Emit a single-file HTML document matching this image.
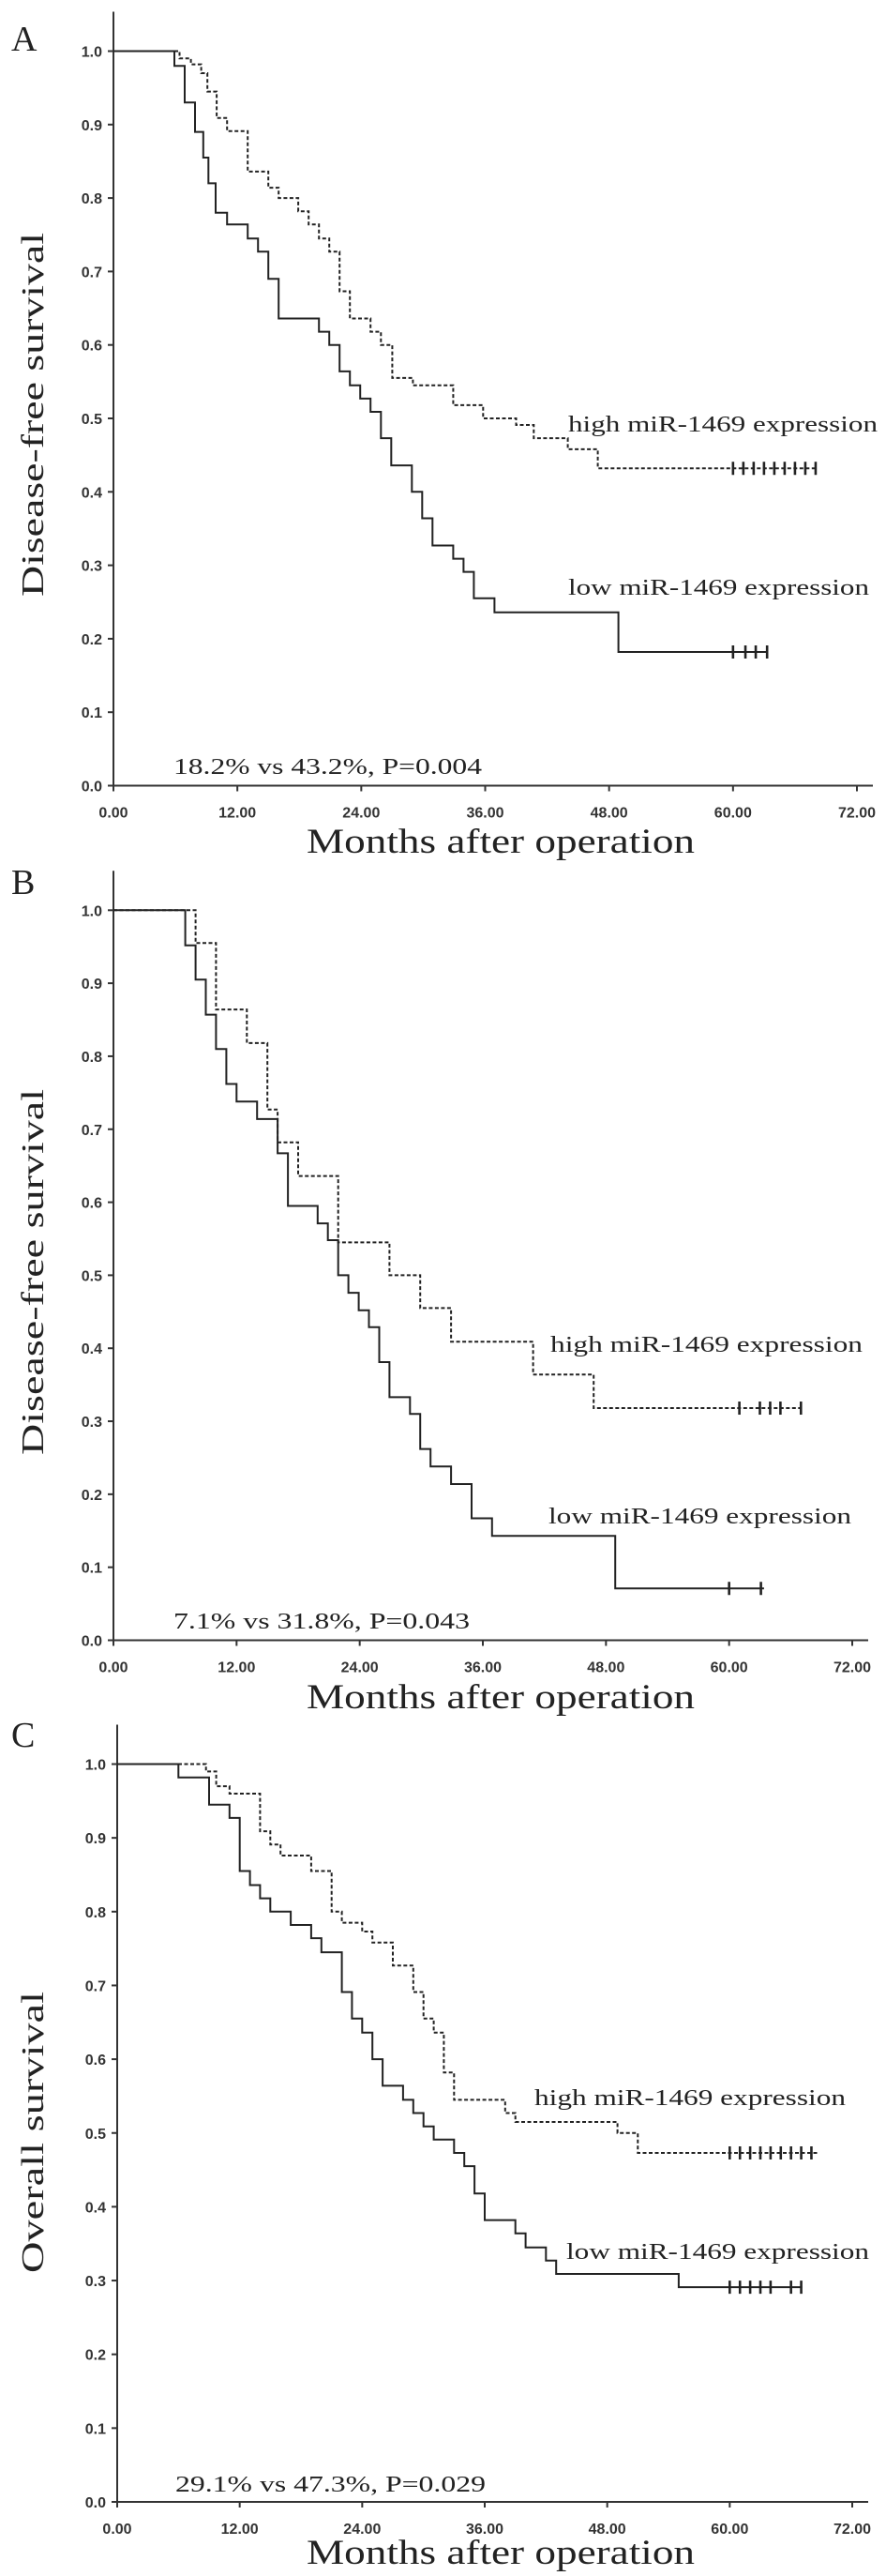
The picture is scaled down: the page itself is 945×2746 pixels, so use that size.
<!DOCTYPE html>
<html><head><meta charset="utf-8"><style>
html,body{margin:0;padding:0;background:#fff}
svg{display:block}
.tk{font-family:"Liberation Sans",sans-serif;font-size:16px;font-weight:bold;fill:#333}
.sf{font-family:"Liberation Serif",serif;fill:#222}
</style></head><body>
<svg id="fig" width="945" height="2746" viewBox="0 0 945 2746"></svg>
<script>
// Panel A data (months, survival)
const aLowT=[5.9,6.9,7.9,8.7,9.2,9.9,11,13,14,15,16,19.9,20.9,21.9,22.9,23.9,24.9,25.9,26.9,28.9,29.9,30.9,32.9,33.9,34.9,36.9,48.9];
const aLowS=[0.98,0.93,0.89,0.855,0.82,0.78,0.764,0.745,0.727,0.69,0.636,0.618,0.6,0.564,0.545,0.527,0.509,0.473,0.436,0.4,0.364,0.327,0.309,0.291,0.255,0.236,0.182];
const aLowEnd=63.3;
const aLowCens=[60,61.2,62.2,63.3];
const aHighT=[6.4,7.5,8.5,9.1,10,11,13,15,16,17.9,18.9,19.9,20.9,21.9,22.9,24.9,25.9,27,29,32.9,35.8,39,40.7,44,46.9];
const aHighS=[0.99,0.982,0.97,0.945,0.909,0.891,0.836,0.814,0.8,0.782,0.764,0.745,0.727,0.673,0.636,0.618,0.6,0.555,0.545,0.518,0.5,0.491,0.473,0.458,0.432];
const aHighEnd=68.2;
const aHighCens=[60,61,62,63,64,65,66,67,68];
// Panel B data
const bLowT=[7,8,9,10,11,12,14,16,17,19.9,20.9,21.9,22.9,23.9,24.9,25.9,26.9,28.9,29.9,30.9,32.9,34.9,36.9,48.9];
const bLowS=[0.952,0.905,0.857,0.81,0.762,0.738,0.714,0.667,0.595,0.571,0.548,0.5,0.476,0.452,0.429,0.381,0.333,0.31,0.262,0.238,0.214,0.167,0.143,0.071];
const bLowEnd=63.4;
const bLowCens=[60,63.1];
const bHighT=[8,10,13,15,16,18,21.9,26.9,29.9,32.9,40.9,46.8];
const bHighS=[0.955,0.864,0.818,0.727,0.682,0.636,0.545,0.5,0.455,0.409,0.364,0.318];
const bHighEnd=67;
const bHighCens=[61,63,64,65,67];
// Panel C data
const cLowT=[6,9,11,12,13,14,15,17,19,20,22,23,24,25,26,28,29,30,31,33,34,35,36,39,40,42,43,55];
const cLowS=[0.982,0.945,0.927,0.855,0.836,0.818,0.8,0.782,0.764,0.745,0.691,0.655,0.636,0.6,0.564,0.545,0.527,0.509,0.491,0.473,0.455,0.418,0.382,0.364,0.345,0.327,0.309,0.291];
const cLowEnd=67.1;
const cLowCens=[60,61,62,63,64,66,67];
const cHighT=[8.7,9.7,11,14,15,16,19,21,22,24,25,27,29,30,31,32,33,38,39,49,51];
const cHighS=[0.99,0.97,0.96,0.909,0.891,0.876,0.855,0.8,0.785,0.773,0.758,0.727,0.691,0.655,0.636,0.582,0.545,0.527,0.515,0.5,0.473];
const cHighEnd=68.6;
const cHighCens=[60,61,62,63,64,65,66,67,68];
const xTicks=["0.00","12.00","24.00","36.00","48.00","60.00","72.00"];
const yTicks=["0.0","0.1","0.2","0.3","0.4","0.5","0.6","0.7","0.8","0.9","1.0"];

const NS="http://www.w3.org/2000/svg";
const svg=document.getElementById('fig');
function mk(tag,attrs,parent){const e=document.createElementNS(NS,tag);for(const k in attrs)e.setAttribute(k,attrs[k]);(parent||svg).appendChild(e);return e;}

function panel(p){
  const g=mk('g',{});
  
  
  const X=m=>p.x0+(p.x72-p.x0)*m/72;
  const Y=s=>p.y0+(p.y1-p.y0)*s;
  const ya=mk('line',{x1:p.x0,y1:p.y1-42,x2:p.x0,y2:p.y0,stroke:'#333','stroke-width':2},g);
  
  
  const xa=mk('line',{x1:p.x0,y1:p.y0,x2:p.x72+17,y2:p.y0,stroke:'#333','stroke-width':2},g);
  
  
  xTicks.forEach((t,i)=>{const m=parseFloat(t);
    mk('line',{x1:X(m),y1:p.y0,x2:X(m),y2:p.y0+6,stroke:'#333','stroke-width':2},g);
    const tx=mk('text',{x:X(m),y:p.y0+34,'text-anchor':'middle',class:'tk'},g);tx.textContent=t;
    
    });
  yTicks.forEach(t=>{const v=parseFloat(t);
    mk('line',{x1:p.x0-6,y1:Y(v),x2:p.x0,y2:Y(v),stroke:'#333','stroke-width':2},g);
    const tx=mk('text',{x:p.x0-12,y:Y(v)+6,'text-anchor':'end',class:'tk'},g);tx.textContent=t;
    
    });
  function curve(T,S,end,cens,dash,name){
    let d='M'+X(0)+','+Y(1);let prev=1;
    T.forEach((t,i)=>{d+=' H'+X(t).toFixed(1)+' V'+Y(S[i]).toFixed(1);prev=S[i];});
    d+=' H'+X(end).toFixed(1);
    const path=mk('path',{d:d,fill:'none',stroke:'#222','stroke-width':2,'stroke-dasharray':dash?'4,2.5':'none'},g);
    
    
    cens.forEach(c=>{const l=mk('line',{x1:X(c),y1:Y(prev)-7,x2:X(c),y2:Y(prev)+7,stroke:'#222','stroke-width':2.6},g);
      
      });
  }
  curve(p.lowT,p.lowS,p.lowEnd,p.lowC,false,'low-expression');
  curve(p.highT,p.highS,p.highEnd,p.highC,true,'high-expression');
  function txt(s,x,y,size,name,extra){const t=mk('text',Object.assign({x:x,y:y,class:'sf','font-size':size},extra||{}),g);t.textContent=s;
    
    return t;}
  txt(p.id,p.lx,p.ly,38,'panel-label');
  txt('high miR-1469 expression',p.hx,p.hy,24,'high-expression-label',{textLength:p.hw,lengthAdjust:'spacingAndGlyphs'});
  txt('low miR-1469 expression',p.lwx,p.lwy,24,'low-expression-label',{textLength:p.lww,lengthAdjust:'spacingAndGlyphs'});
  txt(p.stat,p.sx,p.sy,24,'statistics-annotation',{textLength:p.sw,lengthAdjust:'spacingAndGlyphs'});
  txt('Months after operation',534,p.xty,37,'x-axis-title',{'text-anchor':'middle',textLength:414,lengthAdjust:'spacingAndGlyphs'});
  const cy=p.ytc;
  txt(p.ytitle,0,0,34,'y-axis-title',{'text-anchor':'middle',transform:'translate(46,'+cy+') rotate(-90)',textLength:p.ytl,lengthAdjust:'spacingAndGlyphs'});
}
panel({id:'A',x0:121,x72:914,y1:54.5,y0:837.5,lowT:aLowT,lowS:aLowS,lowEnd:aLowEnd,lowC:aLowCens,highT:aHighT,highS:aHighS,highEnd:aHighEnd,highC:aHighCens,
  lx:12,ly:54,hx:606,hy:460,hw:330,lwx:606,lwy:634,lww:321,stat:'18.2% vs 43.2%, P=0.004',sx:185,sy:825,sw:329,xty:909,ytc:442,ytitle:'Disease-free survival',ytl:388});
panel({id:'B',x0:121,x72:909,y1:970.3,y0:1748.5,lowT:bLowT,lowS:bLowS,lowEnd:bLowEnd,lowC:bLowCens,highT:bHighT,highS:bHighS,highEnd:bHighEnd,highC:bHighCens,
  lx:12,ly:953,hx:587,hy:1441,hw:333,lwx:585,lwy:1624,lww:323,stat:'7.1% vs 31.8%, P=0.043',sx:185,sy:1736,sw:316,xty:1821,ytc:1356,ytitle:'Disease-free survival',ytl:390});
panel({id:'C',x0:125,x72:909,y1:1880.5,y0:2667,lowT:cLowT,lowS:cLowS,lowEnd:cLowEnd,lowC:cLowCens,highT:cHighT,highS:cHighS,highEnd:cHighEnd,highC:cHighCens,
  lx:12,ly:1862,hx:570,hy:2244,hw:332,lwx:604,lwy:2408,lww:323,stat:'29.1% vs 47.3%, P=0.029',sx:187,sy:2656,sw:331,xty:2733,ytc:2273,ytitle:'Overall survival',ytl:300});
</script>
</body></html>
